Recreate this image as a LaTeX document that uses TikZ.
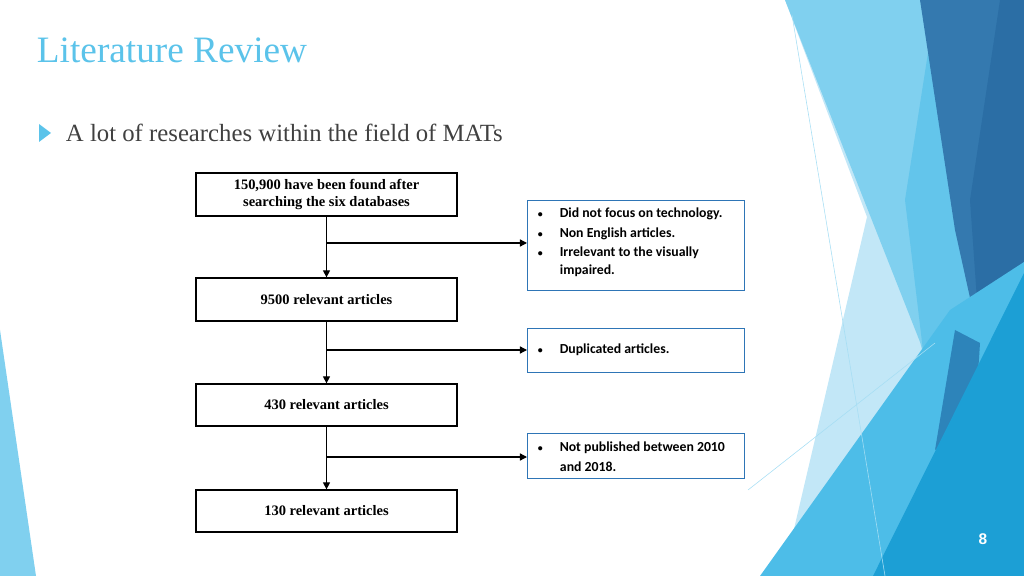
\documentclass[tikz,border=0pt]{standalone}
\usepackage{fontspec}
\setmainfont{Liberation Serif}
\newfontfamily\carl{Carlito}
\newfontfamily\lsans{Liberation Sans}
\usetikzlibrary{arrows.meta}
\definecolor{titleblue}{HTML}{5BC3EA}
\definecolor{pale}{HTML}{C2E7F7}
\definecolor{lightb}{HTML}{80D0EF}
\definecolor{midb}{HTML}{63C5EB}
\definecolor{darkb}{HTML}{2B6EA5}
\definecolor{darkb2}{HTML}{3479AF}
\definecolor{botl}{HTML}{4DBDE8}
\definecolor{botr}{HTML}{1C9FD5}
\definecolor{boxblue}{HTML}{2E75B6}
\tikzset{
 flow/.style={draw=black, line width=0.9pt, minimum width=261*0.025cm, font=\bfseries\fontsize{10.3}{12}\selectfont, align=center, inner sep=0pt},
 side/.style={draw=boxblue, line width=1pt, anchor=north west, minimum width=217*0.025cm, inner sep=0pt},
 arr/.style={-{Triangle[length=5pt,width=5pt]}, line width=0.9pt},
}
\begin{document}
\begin{tikzpicture}[x=0.025cm,y=-0.025cm]
\useasboundingbox (0,0) rectangle (1024,576);
% background shapes
\fill[lightb] (0,330) -- (36,576) -- (0,576) -- cycle;
\fill[pale] (785,0) -- (1024,0) -- (1024,576) -- (783,576) -- (867,217) -- cycle;
\fill[lightb] (785,0) -- (1024,0) -- (1024,576) -- (985,576) -- (920,342) -- cycle;
\fill[midb] (930,40) -- (1024,300) -- (1000,576) -- (950,576) -- (905,200) -- cycle;
\fill[darkb2] (920,0) -- (1024,0) -- (1024,230) -- (980,343) -- (955,230) -- cycle;
\fill[darkb] (1000,0) -- (1024,0) -- (1024,265) -- (980,343) -- (970,200) -- cycle;
\fill[botl] (950,310) -- (1024,262) -- (1024,576) -- (760,576) -- cycle;
\fill[darkb2!70!botr] (955,330) -- (980,343) -- (975,420) -- (935,450) -- cycle;
\fill[botr] (1024,273) -- (1024,576) -- (873,576) -- cycle;
\draw[lightb!70!white, line width=0.4pt] (792,15) -- (885,576);
\draw[lightb!70!white, line width=0.4pt] (748,490) -- (935,343);
% title
\node[anchor=west, text=titleblue, font=\fontsize{26.5}{30}\selectfont] (title) at (32,50) {Literature Review};
\fill[titleblue] (39,124) -- (51,133) -- (39,142) -- cycle;
\node[anchor=west, text=black!75, font=\fontsize{17.6}{20}\selectfont] (bul) at (61,133) {A lot of researches within the field of MATs};
% flow
\node[flow, minimum height=43*0.025cm] (b1) at (326.5,194.5) {150,900 have been found after\\searching the six databases};
\node[flow, minimum height=43*0.025cm] (b2) at (326.5,299.5) {9500 relevant articles};
\node[flow, minimum height=42*0.025cm] (b3) at (326.5,405) {430 relevant articles};
\node[flow, minimum height=42*0.025cm] (b4) at (326.5,511) {130 relevant articles};
\node[side, minimum height=90*0.025cm] (s1) at (527,200) {};
\node[side, minimum height=44*0.025cm] (s2) at (527,328) {};
\node[side, minimum height=45*0.025cm] (s3) at (527,433) {};
\begin{scope}[font=\carl\bfseries\fontsize{9.8}{11}\selectfont]
\node[anchor=west] (t1a) at (533,214) {{\fontsize{7}{8}\selectfont•}\hspace{12pt}Did not focus on technology.};
\node[anchor=west] (t1b) at (533,234) {{\fontsize{7}{8}\selectfont•}\hspace{12pt}Non English articles.};
\node[anchor=west] (t1c) at (533,253) {{\fontsize{7}{8}\selectfont•}\hspace{12pt}Irrelevant to the visually};
\node[anchor=west] (t1d) at (555,271) {impaired.};
\node[anchor=west] (t2) at (533,350) {{\fontsize{7}{8}\selectfont•}\hspace{12pt}Duplicated articles.};
\node[anchor=west] (t3a) at (533,448) {{\fontsize{7}{8}\selectfont•}\hspace{12pt}Not published between 2010};
\node[anchor=west] (t3b) at (555,467) {and 2018.};
\end{scope}
\coordinate (j1) at (326.5,243);
\coordinate (j2) at (326.5,350);
\coordinate (j3) at (326.5,457);
\draw[arr] (b1) -- (b2);
\draw[arr] (b2) -- (b3);
\draw[arr] (b3) -- (b4);
\draw[arr] (j1) -- (j1 -| s1.west);
\draw[arr] (j2) -- (j2 -| s2.west);
\draw[arr] (j3) -- (j3 -| s3.west);
\node[text=white, font=\lsans\bfseries\fontsize{11}{13}\selectfont] (pg) at (983,539) {8};
\end{tikzpicture}
\end{document}
